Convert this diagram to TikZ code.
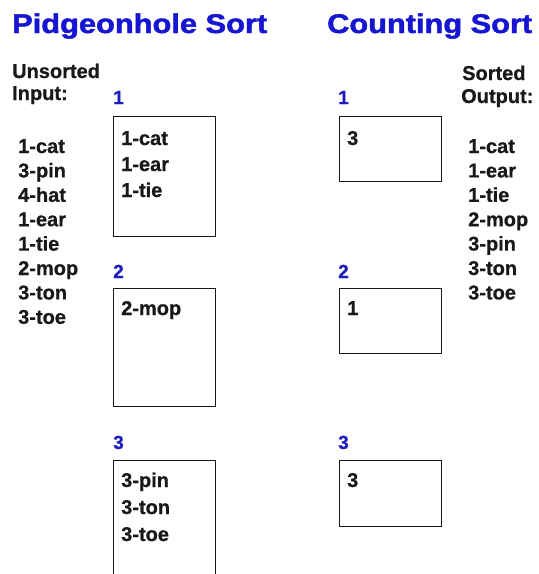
\documentclass[tikz,border=0pt]{standalone}
\usepackage{fontspec}
\usepackage{graphicx}
\setmainfont{Liberation Sans}
\newfontfamily\ttlfont{Liberation Sans}[BoldFeatures={FakeBold=1.6}]
\newfontfamily\bodyfont{Liberation Sans}[BoldFeatures={FakeBold=0.7}]
\definecolor{ttlblue}{RGB}{22,22,210}
\definecolor{lblblue}{RGB}{30,30,190}
\definecolor{ink}{RGB}{25,25,25}
\tikzset{
  ttl/.style={anchor=base west, inner sep=0pt, text=ttlblue, font=\ttlfont\fontsize{27}{30}\selectfont\bfseries},
  hdr/.style={anchor=base west, inner sep=0pt, text=ink, font=\bodyfont\fontsize{20}{22}\selectfont\bfseries},
  itm/.style={anchor=base west, inner sep=0pt, text=ink, font=\bodyfont\fontsize{20}{22}\selectfont\bfseries},
  lbl/.style={anchor=base west, inner sep=0pt, text=lblblue, font=\bodyfont\fontsize{19}{21}\selectfont\bfseries},
  bin/.style={draw=ink, line width=1.4pt, anchor=north west, inner sep=0pt, minimum width=102pt},
}
\begin{document}
\begin{tikzpicture}[x=1pt,y=-1pt]
\clip (0,0) rectangle (539,574);
\fill[white] (0,0) rectangle (539,574);
% titles
\node[ttl] (t1) at (12,33) {\resizebox{255pt}{\height}{Pidgeonhole Sort}};
\node[ttl] (t2) at (327,33) {\resizebox{205pt}{\height}{Counting Sort}};
% headers
\node[hdr] (h1) at (12,78) {Unsorted};
\node[hdr] (h2) at (12,100) {Input:};
\node[hdr] (h3) at (462,80) {Sorted};
\node[hdr] (h4) at (461,103) {Output:};
% input list
\foreach \t [count=\i from 0] in {1-cat,3-pin,4-hat,1-ear,1-tie,2-mop,3-ton,3-toe}
  \node[itm] (in\i) at (18,153+24.4*\i) {\t};
% output list
\foreach \t [count=\i from 0] in {1-cat,1-ear,1-tie,2-mop,3-pin,3-ton,3-toe}
  \node[itm] (out\i) at (468,153+24.4*\i) {\t};
% labels
\node[lbl] (la1) at (113,104) {1};
\node[lbl] (la2) at (113,278) {2};
\node[lbl] (la3) at (113,449) {3};
\node[lbl] (lb1) at (338,104) {1};
\node[lbl] (lb2) at (338,278) {2};
\node[lbl] (lb3) at (338,449) {3};
% pigeonhole boxes
\node[bin, minimum height=120pt] (pa) at (112.5,115.5) {};
\node[bin, minimum height=118pt] (pb) at (112.5,287.5) {};
\node[bin, minimum height=130pt] (pc) at (112.5,459.5) {};
% counting boxes
\node[bin, minimum height=65pt] (ca) at (338.5,115.5) {};
\node[bin, minimum height=65pt] (cb) at (338.5,287.5) {};
\node[bin, minimum height=66pt] (cc) at (338.5,459.5) {};
% box contents
\node[itm] (pa1) at (121,145) {1-cat};
\node[itm] (pa2) at (121,171) {1-ear};
\node[itm] (pa3) at (121,197) {1-tie};
\node[itm] (pb1) at (121,315) {2-mop};
\node[itm] (pc1) at (121,487) {3-pin};
\node[itm] (pc2) at (121,514) {3-ton};
\node[itm] (pc3) at (121,541) {3-toe};
\node[itm] (ca1) at (347,145) {3};
\node[itm] (cb1) at (347,315) {1};
\node[itm] (cc1) at (347,487) {3};
\end{tikzpicture}
\end{document}
